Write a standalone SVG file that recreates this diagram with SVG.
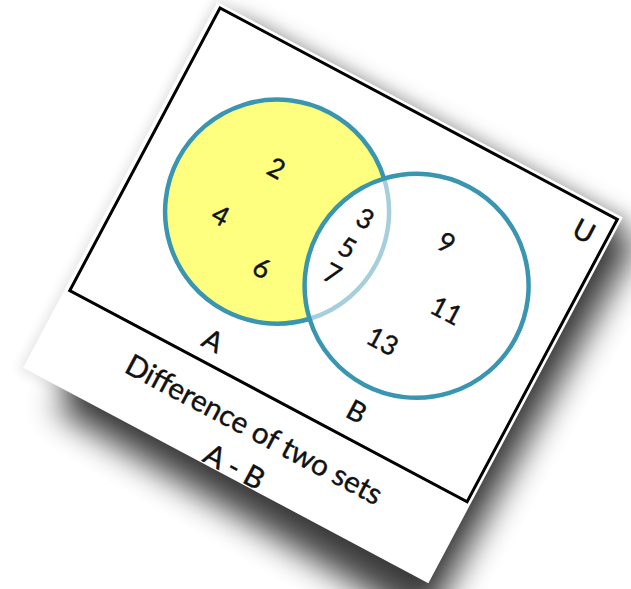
<svg xmlns="http://www.w3.org/2000/svg" width="631" height="589" viewBox="0 0 631 589">
<defs>
<filter id="shadowBlur" x="-30%" y="-30%" width="160%" height="160%">
<feGaussianBlur stdDeviation="16"/>
</filter>
<filter id="glowBlur" x="-20%" y="-20%" width="140%" height="140%">
<feGaussianBlur stdDeviation="6"/>
</filter>
<style>
.num { font-family: "Lato", "Open Sans", sans-serif; font-size: 27px; fill: #111; stroke: #111; stroke-width: 0.4; text-anchor: middle; dominant-baseline: central; }
.lbl { font-family: "Lato", "Open Sans", sans-serif; font-size: 28px; fill: #111; stroke: #111; stroke-width: 0.4; text-anchor: middle; dominant-baseline: central; }
.cap { font-family: "Lato", "Open Sans", sans-serif; font-size: 29.5px; fill: #111; stroke: #111; stroke-width: 0.4; text-anchor: middle; dominant-baseline: central; }
.ring { fill: none; stroke: #3a96b0; stroke-width: 4.5; }
</style>
</defs>
<rect width="631" height="589" fill="#ffffff"/>
<g id="paper" transform="translate(220,8) rotate(28)">
<rect x="-8" y="-8" width="466" height="422" fill="#000" opacity="0.1" filter="url(#glowBlur)"/>
<polygon points="20,8 478,8 472,448 45,432" fill="#000" opacity="0.75" filter="url(#shadowBlur)"/>
<rect x="-5" y="-4" width="459" height="414" fill="#ffffff"/>
</g>
<g id="diagram" transform="translate(220,8) rotate(28)">
<g id="universe">
<rect x="0" y="0" width="450" height="320" fill="none" stroke="#000" stroke-width="3"/>
<text class="lbl" x="426" y="25">U</text>
</g>
<g id="setA-fill">
<circle cx="146" cy="153" r="112" fill="#ffff7f"/>
</g>
<g id="setB">
<circle cx="304" cy="153" r="112" fill="#ffffff"/>
</g>
<g id="setA">
<circle class="ring" cx="146" cy="153" r="112"/>
</g>
<g id="setB-ring">
<circle cx="304" cy="153" r="112" fill="#ffffff" opacity="0.55"/>
<circle class="ring" cx="304" cy="153" r="112"/>
</g>
<g id="elements">
<text class="num" x="125" y="114">2</text>
<text class="num" x="98" y="182">4</text>
<text class="num" x="159" y="209">6</text>
<text class="num" x="227" y="117">3</text>
<text class="num" x="225" y="151">5</text>
<text class="num" x="224" y="181">7</text>
<text class="num" x="310" y="100">9</text>
<text class="num" x="342" y="160">11</text>
<text class="num" x="300" y="217">13</text>
</g>
<g id="labels">
<text class="lbl" x="150" y="296">A</text>
<text class="lbl" x="310" y="291">B</text>
<text class="cap" x="228" y="355">Difference of two sets</text>
<text class="cap" x="228" y="397">A - B</text>
</g>
</g>
</svg>
